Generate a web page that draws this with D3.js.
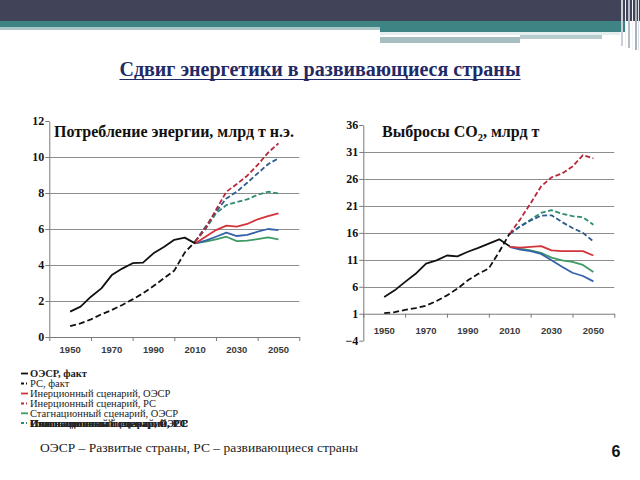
<!DOCTYPE html>
<html><head><meta charset="utf-8">
<script src="https://cdn.jsdelivr.net/npm/d3@7"></script>
<style>
html,body{margin:0;padding:0;background:#fff;}
svg{display:block;}
</style>
</head><body>
<svg id="c" width="640" height="480"></svg>
<script>
// ---------- DATA ----------
const factYears = [1950,1955,1960,1965,1970,1975,1980,1985,1990,1995,2000,2005,2010];
const projYears = [2010,2015,2020,2025,2030,2035,2040,2045,2050];
const xTickMarks = [1940,1960,1980,2000,2020,2040,2060];
const xTickLabels = [1950,1970,1990,2010,2030,2050];

// Energy consumption, bn toe
const energyOecdFact = [1.41,1.69,2.24,2.7,3.44,3.8,4.1,4.13,4.65,5.0,5.4,5.52,5.2];
const energyRsFact   = [0.61,0.76,0.98,1.26,1.5,1.78,2.09,2.43,2.83,3.26,3.69,4.69,5.3];
const energyInertOecd = [5.2,5.57,5.94,6.19,6.13,6.28,6.54,6.72,6.87];
const energyInertRs   = [5.3,6.04,7.06,8.07,8.5,8.96,9.56,10.24,10.76];
const energyStagOecd  = [5.2,5.3,5.43,5.57,5.33,5.35,5.44,5.54,5.43];
const energyStagRs    = [5.3,6.0,6.87,7.33,7.5,7.65,7.9,8.07,7.98];
const energyInnovOecd = [5.2,5.35,5.57,5.8,5.61,5.67,5.85,6.0,5.94];
const energyInnovRs   = [5.3,6.13,6.96,7.7,8.07,8.57,9.09,9.6,9.93];
const energyTicks = [0,2,4,6,8,10,12];

// CO2 emissions, bn t
const co2OecdFact = [4.1,5.34,6.9,8.4,10.3,10.9,11.8,11.65,12.5,13.2,14.0,14.8,13.5];
const co2RsFact   = [1.1,1.3,1.7,2.05,2.5,3.35,4.4,5.65,7.2,8.4,9.4,12.5,15.9];
const co2InertOecd = [13.4,13.25,13.4,13.55,12.75,12.6,12.6,12.6,11.8];
const co2InertRs   = [15.8,18.5,21.5,24.6,26.3,27.0,28.3,30.4,29.8];
const co2StagOecd  = [13.4,13.05,12.75,12.3,11.4,10.9,10.6,10.05,8.75];
const co2StagRs    = [15.8,17.2,18.45,19.7,20.2,19.55,19.1,18.9,17.5];
const co2InnovOecd = [13.4,12.9,12.6,12.1,10.9,9.7,8.6,8.0,7.0];
const co2InnovRs   = [15.8,17.2,18.3,19.2,19.25,18.0,16.9,16.0,14.4];
const co2Ticks = [-4,1,6,11,16,21,26,31,36];

const legendLabels = ["ОЭСР, факт","РС, факт","Инерционный сценарий, ОЭСР","Инерционный сценарий, РС","Стагнационный сценарий, ОЭСР"];
const legendOverlap = ["Стагнационный сценарий, РС","Инновационный сценарий, ОЭСР","Инновационный сценарий, РС"];

// ---------- STYLE ----------
const C = {
  black:"#111111",
  redS:"#d3333a", redD:"#b8283a",
  greenS:"#3d9b63", greenD:"#2f8c72",
  blueS:"#3562aa", blueD:"#2e5c8e",
  grid:"#8e8e8e"
};
const serif = "'Liberation Serif','Times New Roman',serif";
const sans = "'Liberation Sans',Arial,sans-serif";

const svg = d3.select("#c");

// ---------- BANNER ----------
const ban = svg.append("g");
ban.append("rect").attr("x",0).attr("y",0).attr("width",640).attr("height",21).attr("fill","#414358");
ban.append("rect").attr("x",0).attr("y",21).attr("width",380).attr("height",6).attr("fill","#3f8484");
ban.append("rect").attr("x",380).attr("y",21).attr("width",245).attr("height",11).attr("fill","#3f8484");
ban.append("rect").attr("x",0).attr("y",27).attr("width",380).attr("height",3).attr("fill","#aac6c6");
ban.append("rect").attr("x",380).attr("y",32).attr("width",240).attr("height",3).attr("fill","#e4eeee");
ban.append("rect").attr("x",380).attr("y",37).attr("width",140).attr("height",6).attr("fill","#a6bec0");
ban.append("rect").attr("x",520).attr("y",35).attr("width",82).attr("height",4).attr("fill","#b9cccd");
[[621,2,"#c9ced8",46],[625,1,"#eef0f3",48],[628,2,"#b4bcc6",48],[632,1,"#f2f4f6",50],[635,2,"#a9b1bb",50],[638,1,"#dde1e6",50]].forEach(d=>{
  ban.append("rect").attr("x",d[0]).attr("y",0).attr("width",d[1]).attr("height",d[3]).attr("fill",d[2]);
});

// ---------- TITLE ----------
const title = svg.append("text").attr("x",320).attr("y",76).attr("text-anchor","middle")
  .attr("font-family",serif).attr("font-weight","bold").attr("font-size",20)
  .attr("fill","#1f2a66").text("Сдвиг энергетики в развивающиеся страны");
const tw = title.node().getComputedTextLength();
svg.append("line").attr("x1",320-tw/2).attr("x2",320+tw/2).attr("y1",79.5).attr("y2",79.5)
  .attr("stroke","#1f2a66").attr("stroke-width",1.2);

// ---------- CHART BUILDER ----------
function chart(opts){
  const g = svg.append("g");
  const x = d3.scaleLinear().domain([1940,2060]).range(opts.xr);
  const y = d3.scaleLinear().domain(opts.yd).range(opts.yr);
  // gridlines
  g.selectAll("line.grid").data(opts.grid).join("line")
    .attr("x1",x(1940)).attr("x2",x(2060))
    .attr("y1",d=>Math.round(y(d))+0.5).attr("y2",d=>Math.round(y(d))+0.5)
    .attr("stroke",C.grid).attr("stroke-width",1);
  // y axis
  const ya = g.append("g").attr("transform",`translate(${x(1940)},0)`)
    .call(d3.axisLeft(y).tickValues(opts.ticks).tickSize(4).tickPadding(1).tickSizeOuter(0));
  ya.attr("font-family",serif);
  ya.select(".domain").attr("stroke","#7a7a7a");
  ya.selectAll(".tick line").attr("stroke","#7a7a7a");
  ya.selectAll("text").attr("font-family",serif).attr("font-weight","bold").attr("font-size",12).attr("fill","#111");
  // x axis
  const xa = g.append("g").attr("transform",`translate(0,${y(opts.xAt)})`)
    .call(d3.axisBottom(x).tickValues(xTickMarks).tickSize(4).tickFormat("").tickSizeOuter(0));
  xa.select(".domain").attr("stroke","#7a7a7a");
  xa.selectAll(".tick line").attr("stroke","#7a7a7a");
  g.selectAll("text.xl").data(xTickLabels).join("text")
    .attr("x",d=>x(d)).attr("y",opts.xLabelY).attr("text-anchor","middle")
    .attr("font-family",sans).attr("font-weight","bold").attr("font-size",9.5).attr("fill","#3a3a3a")
    .text(d=>d);
  // lines
  const line = (ys,yrs)=>d3.line().x((d,i)=>x(yrs[i])).y(d=>y(d))(ys);
  const series = [
    [opts.stagOecd,projYears,C.greenS,null],
    [opts.innovOecd,projYears,C.blueS,null],
    [opts.inertOecd,projYears,C.redS,null],
    [opts.stagRs,projYears,C.greenD,"5,2.5"],
    [opts.innovRs,projYears,C.blueD,"5,2.5"],
    [opts.inertRs,projYears,C.redD,"5,2.5"],
    [opts.rsFact,factYears,C.black,"6,3"],
    [opts.oecdFact,factYears,C.black,null]
  ];
  series.forEach(s=>{
    g.append("path").attr("d",line(s[0],s[1])).attr("fill","none")
      .attr("stroke",s[2]).attr("stroke-width",1.8)
      .attr("stroke-dasharray",s[3]).attr("stroke-linejoin","round");
  });
  return g;
}

const left = chart({
  xr:[49.3,299.3], yd:[0,12], yr:[337,121], ticks:energyTicks, grid:[2,4,6,8,10], xAt:0, xLabelY:353,
  oecdFact:energyOecdFact, rsFact:energyRsFact,
  inertOecd:energyInertOecd, inertRs:energyInertRs,
  stagOecd:energyStagOecd, stagRs:energyStagRs,
  innovOecd:energyInnovOecd, innovRs:energyInnovRs
});
left.append("text").attr("x",54).attr("y",137).attr("font-family",serif).attr("font-weight","bold")
  .attr("font-size",16).attr("fill","#111").text("Потребление энергии, млрд т н.э.");

const right = chart({
  xr:[363.3,614.3], yd:[-4,36], yr:[340.7,125], ticks:co2Ticks, grid:[6,11,16,21,26,31], xAt:1, xLabelY:334,
  oecdFact:co2OecdFact, rsFact:co2RsFact,
  inertOecd:co2InertOecd, inertRs:co2InertRs,
  stagOecd:co2StagOecd, stagRs:co2StagRs,
  innovOecd:co2InnovOecd, innovRs:co2InnovRs
});
const rt = right.append("text").attr("x",382).attr("y",137).attr("font-family",serif).attr("font-weight","bold")
  .attr("font-size",16).attr("fill","#111");
rt.append("tspan").text("Выбросы CO");
rt.append("tspan").attr("dy",4).attr("font-size",10.5).text("2");
rt.append("tspan").attr("dy",-4).text(", млрд т");

// ---------- LEGEND ----------
const lg = svg.append("g");
const keyStyles = [[C.black,null],[C.black,"3,2,1,2"],[C.redS,null],[C.redD,"3,2,1,2"],[C.greenS,null],[C.greenD,"3,2,1,2"]];
const rowY = [373.5,383.5,393.5,403.5,413.3,423];
keyStyles.forEach((k,i)=>{
  lg.append("line").attr("x1",21).attr("x2",28).attr("y1",rowY[i]).attr("y2",rowY[i])
    .attr("stroke",k[0]).attr("stroke-width",1.8).attr("stroke-dasharray",k[1]);
});
legendLabels.forEach((t,i)=>{
  lg.append("text").attr("x",30).attr("y",rowY[i]+3.5).attr("font-family",serif)
    .attr("font-size",10.5).attr("fill","#222").attr("font-weight",i===0?"bold":"normal").text(t);
});
// the reference's last legend row shows three entries printed on top of each other
legendOverlap.forEach((t,i)=>{
  lg.append("text").attr("x",30).attr("y",rowY[5]+3.5).attr("font-family",serif)
    .attr("font-size",10.5).attr("fill","#222").attr("font-weight",i===0?"normal":"bold")
    .attr("textLength",158).attr("lengthAdjust","spacingAndGlyphs").text(t);
});

// ---------- FOOTNOTE ----------
svg.append("text").attr("x",40).attr("y",452).attr("font-family",serif).attr("font-size",13.5)
  .attr("fill","#222").text("ОЭСР – Развитые страны, РС – развивающиеся страны");
svg.append("text").attr("x",616).attr("y",457).attr("text-anchor","middle").attr("font-family",sans)
  .attr("font-weight","bold").attr("font-size",16).attr("fill","#111").text("6");
</script>
</body></html>
